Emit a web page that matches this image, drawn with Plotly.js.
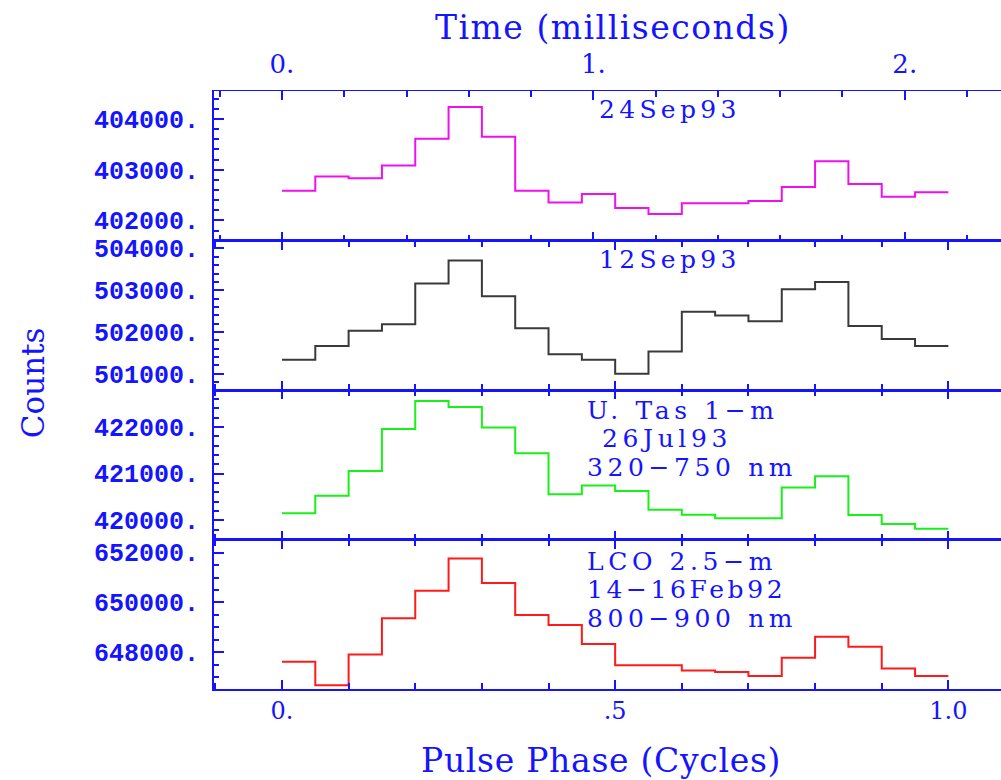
<!DOCTYPE html>
<html>
<head>
<meta charset="utf-8">
<script src="https://cdn.plot.ly/plotly-3.0.1.min.js"></script>
<style>
  html, body { margin: 0; padding: 0; overflow: hidden; background: #fff; }
  #chart { width: 1020px; height: 780px; }
</style>
</head>
<body>
<div id="chart"></div>
<script>
// ---- data (counts per phase bin, 20 bins over one cycle) ----
const binCount = 20;
const binWidth = 0.05;            // cycles per bin
const periodMs = 2.14;            // pulse period in milliseconds

const sep24_93 = [402588, 402865, 402832, 403083, 403612, 404238, 403651, 402588, 402356, 402523,
                  402246, 402127, 402337, 402337, 402384, 402661, 403168, 402721, 402469, 402554];
const sep12_93 = [501333, 501667, 502031, 502183, 503160, 503714, 502857, 502088, 501469, 501333,
                  501000, 501531, 502483, 502398, 502255, 503024, 503198, 502143, 501833, 501667];
const jul26_93 = [420149, 420523, 421055, 421957, 422560, 422432, 421991, 421438, 420560, 420745,
                  420630, 420226, 420119, 420043, 420043, 420702, 420943, 420113, 419921, 419815];
const feb92    = [647622, 646684, 647920, 649370, 650470, 651758, 650780, 649503, 649100, 648335,
                  647489, 647489, 647276, 647220, 647058, 647783, 648629, 648226, 647356, 647058];

const phaseTickVals = [0, 0.5, 1.0];
const phaseTickText = ['0.', '.5', '1.0'];
const timeTickVals  = [0, 1, 2];          // milliseconds
const timeTickText  = ['0.', '1.', '2.'];
const timeMinorStep = 0.2;                // milliseconds

const y1TickVals = [402000, 403000, 404000];
const y1TickText = ['402000.', '403000.', '404000.'];
const y2TickVals = [501000, 502000, 503000, 504000];
const y2TickText = ['501000.', '502000.', '503000.', '504000.'];
const y3TickVals = [420000, 421000, 422000];
const y3TickText = ['420000.', '421000.', '422000.'];
const y4TickVals = [648000, 650000, 652000];
const y4TickText = ['648000.', '650000.', '652000.'];

// ---- styling ----
const BLUE = '#1414ff';
const phaseRange = [-0.102, 1.1];

function edges() {
  const e = [];
  for (let i = 0; i <= binCount; i++) e.push(i * binWidth);
  return e;
}
function stepY(vals) { return vals.concat([vals[vals.length - 1]]); }

function stepTrace(vals, color, xa, ya) {
  return {
    type: 'scatter', mode: 'lines', x: edges(), y: stepY(vals),
    xaxis: xa, yaxis: ya, line: { shape: 'hv', color: color, width: 2 },
    hoverinfo: 'skip', showlegend: false
  };
}

const traces = [
  stepTrace(sep24_93, '#ee10ee', 'x4', 'y'),
  stepTrace(sep12_93, '#3a3a3a', 'x3', 'y2'),
  stepTrace(jul26_93, '#18f018', 'x2', 'y3'),
  stepTrace(feb92,    '#ff1a1a', 'x',  'y4')
];

const tickFontSerif = { family: 'DejaVu Serif', size: 24, color: BLUE };
const tickFontTop = { family: 'DejaVu Serif', size: 26, color: BLUE };
const tickFontY = { family: 'Liberation Mono', size: 25, color: BLUE, weight: 'bold' };

function phaseAxis(anchor, showLabels) {
  return {
    anchor: anchor, domain: [0, 1], range: phaseRange, autorange: false,
    tickmode: 'array', tickvals: phaseTickVals, ticktext: phaseTickText,
    showticklabels: showLabels, tickfont: tickFontSerif, ticklabelstandoff: 0,
    ticks: 'inside', ticklen: 9, tickwidth: 2, tickcolor: BLUE,
    minor: { tickmode: 'linear', tick0: 0, dtick: 0.1, ticks: 'inside', ticklen: 6, tickwidth: 2, tickcolor: BLUE, showgrid: false },
    showline: true, linecolor: BLUE, linewidth: 1.5, mirror: 'ticks',
    showgrid: false, zeroline: false, fixedrange: true
  };
}
function countAxis(domain, anchor, range, tv, tt, minorStep) {
  return {
    domain: domain, anchor: anchor, range: range, autorange: false,
    tickmode: 'array', tickvals: tv, ticktext: tt, tickfont: tickFontY, ticklabelstandoff: 8,
    ticks: 'inside', ticklen: 10, tickwidth: 2, tickcolor: BLUE,
    minor: { tickmode: 'linear', tick0: 0, dtick: minorStep, ticks: 'inside', ticklen: 5, tickwidth: 2, tickcolor: BLUE, showgrid: false },
    showline: true, linecolor: BLUE, linewidth: 2, mirror: 'ticks',
    showgrid: false, zeroline: false, fixedrange: true
  };
}

// top panel: phase axis carrying the time (ms) ticks, on top and mirrored below
const xa4 = phaseAxis('y', true);
xa4.side = 'top';
xa4.tickvals = timeTickVals.map(t => t / periodMs);
xa4.ticktext = timeTickText;
xa4.tickfont = tickFontTop;
xa4.ticklabelstandoff = 6;
xa4.minor = { tickmode: 'linear', tick0: 0, dtick: timeMinorStep / periodMs, ticks: 'inside',
              ticklen: 6, tickwidth: 2, tickcolor: BLUE, showgrid: false };

function ls(px, txt) { return '<span style="letter-spacing:' + px + 'px">' + txt + '</span>'; }
const annFont = { family: 'DejaVu Serif', size: 25, color: BLUE };
function ann(text, x, y, xanchor, sp) {
  return { text: ls(sp, text), xref: 'x', yref: 'paper', x: x, y: y,
           xanchor: xanchor, yanchor: 'middle', showarrow: false, font: annFont };
}

const layout = {
  width: 1020, height: 780,
  margin: { l: 214, r: 5, t: 91, b: 91, pad: 0 },
  paper_bgcolor: '#ffffff', plot_bgcolor: '#ffffff',
  showlegend: false,
  xaxis: phaseAxis('y4', true),
  xaxis2: phaseAxis('y3', false),
  xaxis3: phaseAxis('y2', false),
  xaxis4: xa4,
  yaxis:  countAxis([0.75, 1.0], 'x4', [401604, 404554], y1TickVals, y1TickText, 200),
  yaxis2: countAxis([0.5, 0.75], 'x3', [500612, 504190], y2TickVals, y2TickText, 200),
  yaxis3: countAxis([0.25, 0.5], 'x2', [419587, 422794], y3TickVals, y3TickText, 200),
  yaxis4: countAxis([0.0, 0.25], 'x',  [646534, 652524], y4TickVals, y4TickText, 500),
  annotations: [
    { text: ls(1.5, 'Time (milliseconds)'), xref: 'x', yref: 'paper', x: 0.497, y: 1.107,
      xanchor: 'center', yanchor: 'middle', showarrow: false,
      font: { family: 'DejaVu Serif', size: 33, color: BLUE } },
    { text: ls(0.7, 'Pulse Phase (Cycles)'), xref: 'x', yref: 'paper', x: 0.479, y: -0.119,
      xanchor: 'center', yanchor: 'middle', showarrow: false,
      font: { family: 'DejaVu Serif', size: 33, color: BLUE } },
    { text: 'Counts', xref: 'paper', yref: 'paper', x: -0.226, y: 0.513, textangle: -90,
      xanchor: 'center', yanchor: 'middle', showarrow: false,
      font: { family: 'DejaVu Serif', size: 31, color: BLUE } },
    ann('24Sep93', 0.5826, 0.969, 'center', 4.3),
    ann('12Sep93', 0.5826, 0.719, 'center', 4.3),
    ann('U. Tas 1\u2212m', 0.455, 0.4665, 'left', 4.6),
    ann('26Jul93', 0.4775, 0.4181, 'left', 4.6),
    ann('320\u2212750 nm', 0.455, 0.3696, 'left', 4.6),
    ann('LCO 2.5\u2212m', 0.455, 0.2140, 'left', 4.6),
    ann('14\u221216Feb92', 0.455, 0.1656, 'left', 3.6),
    ann('800\u2212900 nm', 0.455, 0.1171, 'left', 4.6)
  ]
};

Plotly.newPlot('chart', traces, layout, { staticPlot: true, displayModeBar: false });
</script>
</body>
</html>
